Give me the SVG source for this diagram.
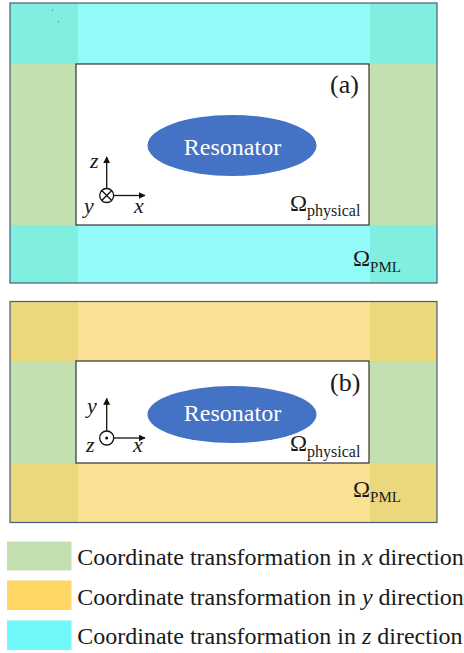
<svg xmlns="http://www.w3.org/2000/svg" width="464" height="653" viewBox="0 0 464 653">
  <style>
    .serif { font-family: "Liberation Serif", "Times New Roman", serif; fill: #1a1a1a; }
    .it { font-style: italic; }
    .res { font-family: "Liberation Serif", "Times New Roman", serif; fill: #ffffff; font-size: 24px; text-anchor: middle; }
    .frame { fill: none; stroke: #4a5a78; stroke-width: 1.2; }
    .inner { fill: #ffffff; stroke: #333333; stroke-width: 1.2; }
    .ax { stroke: #111111; stroke-width: 1.3; fill: none; }
    .cyan { fill: #92fbf8; }
    .teal { fill: #80efdf; }
    .green { fill: #c4dfb0; }
    .yellow { fill: #fbe193; }
    .ochre { fill: #ebd77c; }
  </style>
  <defs>
    <marker id="arrow" viewBox="0 0 10 10" refX="9" refY="5" markerWidth="7" markerHeight="7" orient="auto" markerUnits="userSpaceOnUse">
      <path d="M0,0 L10,5 L0,10 z" fill="#111111"/>
    </marker>
  </defs>

  <!-- Panel (a): PML in z direction on top/bottom, x direction on left/right -->
  <g id="panel-a">
    <rect class="cyan" x="10" y="3" width="427" height="280"/>
    <rect class="green" x="10" y="64" width="68" height="161"/>
    <rect class="green" x="369" y="64" width="68" height="161"/>
    <rect class="teal" x="10" y="3" width="68" height="61"/>
    <rect class="teal" x="370" y="3" width="67" height="61"/>
    <rect class="teal" x="10" y="225" width="68" height="58"/>
    <rect class="teal" x="370" y="225" width="67" height="58"/>
    <rect class="frame" x="10" y="3" width="427" height="280"/>
    <rect x="52" y="9.5" width="1" height="1" fill="#3a6ee0"/>
    <rect x="58" y="21" width="1" height="1" fill="#3a6ee0"/>
  </g>
  <g id="physical-a">
    <rect class="inner" x="76" y="64" width="293" height="161"/>
    <text class="serif" x="330" y="93" font-size="26">(a)</text>
    <text class="serif" x="290" y="210.5" font-size="23">Ω<tspan font-size="16" dy="5.5">physical</tspan></text>
  </g>
  <g id="resonator-a">
    <ellipse cx="232" cy="145.5" rx="84.5" ry="30.5" fill="#4472c4"/>
    <text class="res" x="232.5" y="155">Resonator</text>
  </g>
  <g id="axes-a">
    <circle class="ax" cx="106.7" cy="195.5" r="7"/>
    <path class="ax" d="M101.7,190.5 L111.7,200.5 M111.7,190.5 L101.7,200.5"/>
    <text class="serif it" x="90" y="168" font-size="22">z</text>
    <text class="serif it" x="84" y="213" font-size="22">y</text>
    <text class="serif it" x="134" y="213" font-size="22">x</text>
  </g>
  <text class="serif" x="353" y="266" font-size="23">Ω<tspan font-size="15" dy="5.5">PML</tspan></text>

  <!-- Panel (b): PML in y direction on top/bottom, x direction on left/right -->
  <g id="panel-b">
    <rect class="yellow" x="10" y="301.5" width="427" height="221"/>
    <rect class="green" x="10" y="361" width="68" height="102"/>
    <rect class="green" x="369" y="361" width="68" height="102"/>
    <rect class="ochre" x="10" y="301.5" width="68" height="59.5"/>
    <rect class="ochre" x="370" y="301.5" width="67" height="59.5"/>
    <rect class="ochre" x="10" y="463" width="68" height="59.5"/>
    <rect class="ochre" x="370" y="463" width="67" height="59.5"/>
    <rect class="frame" x="10" y="301.5" width="427" height="221"/>
  </g>
  <g id="physical-b">
    <rect class="inner" x="76" y="361" width="293" height="102"/>
    <text class="serif" x="330" y="391" font-size="26">(b)</text>
    <text class="serif" x="290" y="451" font-size="23">Ω<tspan font-size="16" dy="5.5">physical</tspan></text>
  </g>
  <g id="resonator-b">
    <ellipse cx="232" cy="414.5" rx="84.5" ry="28.5" fill="#4472c4"/>
    <text class="res" x="232.5" y="421">Resonator</text>
  </g>
  <g id="axes-b">
    <circle class="ax" cx="106.7" cy="438" r="7"/>
    <circle cx="106.7" cy="438" r="1.5" fill="#111111"/>
    <text class="serif it" x="87" y="413" font-size="22">y</text>
    <text class="serif it" x="86" y="452" font-size="22">z</text>
    <text class="serif it" x="133" y="452" font-size="22">x</text>
  </g>
  <text class="serif" x="353" y="496.5" font-size="23">Ω<tspan font-size="15" dy="5.5">PML</tspan></text>

  <!-- Axis arrows -->
  <g id="connectors">
    <line class="ax" x1="106.7" y1="188.5" x2="106.7" y2="157" marker-end="url(#arrow)"/>
    <line class="ax" x1="113.7" y1="195.5" x2="145" y2="195.5" marker-end="url(#arrow)"/>
    <line class="ax" x1="106.7" y1="431" x2="106.7" y2="398.5" marker-end="url(#arrow)"/>
    <line class="ax" x1="113.7" y1="438" x2="145" y2="438" marker-end="url(#arrow)"/>
  </g>

  <!-- Legend -->
  <g id="legend">
    <rect x="7" y="541.5" width="64.5" height="29" fill="#c4dfb0"/>
    <rect x="7" y="580.5" width="64.5" height="29.5" fill="#fdd663"/>
    <rect x="7" y="620.5" width="64.5" height="29.5" fill="#6ff9fb"/>
    <text class="serif" x="77.3" y="565" font-size="24">Coordinate transformation in <tspan class="it">x</tspan> direction</text>
    <text class="serif" x="77.3" y="604.5" font-size="24">Coordinate transformation in <tspan class="it">y</tspan> direction</text>
    <text class="serif" x="77.3" y="643.5" font-size="24">Coordinate transformation in <tspan class="it">z</tspan> direction</text>
  </g>
</svg>
